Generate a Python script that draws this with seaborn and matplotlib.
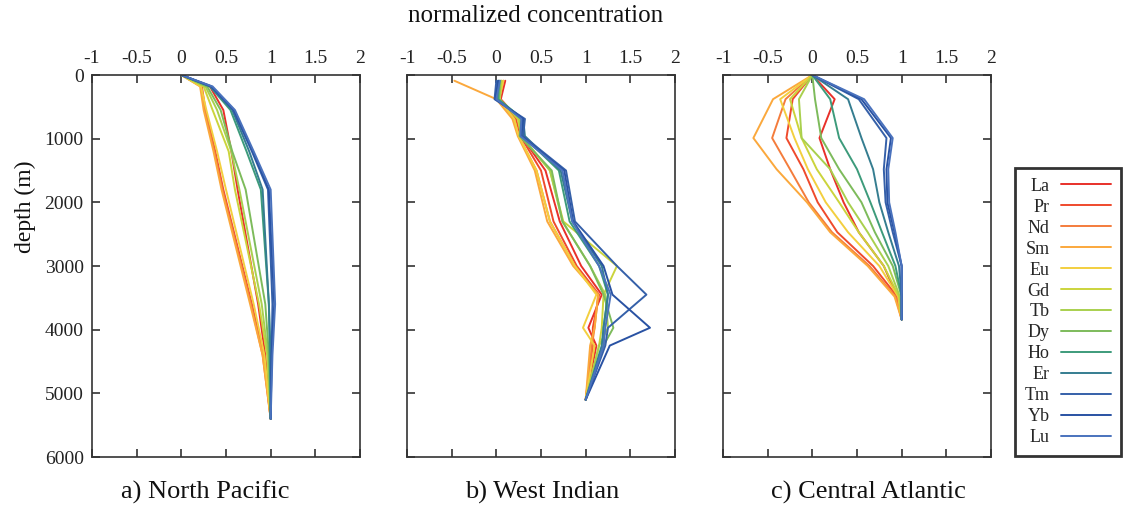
import numpy as np
import pandas as pd
import matplotlib
matplotlib.use("Agg")
import matplotlib.pyplot as plt
import seaborn as sns

elements = ["La", "Pr", "Nd", "Sm", "Eu", "Gd", "Tb", "Dy", "Ho", "Er", "Tm", "Yb", "Lu"]
colors = ["#e8302a", "#ef4a2c", "#f47c3c", "#fba83c", "#f3cf3f", "#cbd43c", "#a9d04e",
          "#7dbb5b", "#3d9b7b", "#357d90", "#3560a9", "#2952a3", "#4a72bd"]

# a) North Pacific
depth_a = [0, 180, 550, 1200, 1800, 3600, 4400, 5400]
vals_a = {
    "La": [0, 0.32, 0.47, 0.56, 0.63, 0.86, 0.94, 1.0],
    "Pr": [0, 0.23, 0.27, 0.38, 0.47, 0.79, 0.92, 1.0],
    "Nd": [0, 0.22, 0.26, 0.37, 0.46, 0.78, 0.91, 1.0],
    "Sm": [0, 0.21, 0.25, 0.36, 0.45, 0.77, 0.91, 1.0],
    "Eu": [0, 0.22, 0.28, 0.40, 0.50, 0.81, 0.93, 1.0],
    "Gd": [0, 0.25, 0.35, 0.53, 0.60, 0.87, 0.96, 1.0],
    "Tb": [0, 0.27, 0.40, 0.56, 0.65, 0.90, 0.97, 1.0],
    "Dy": [0, 0.29, 0.44, 0.57, 0.72, 0.94, 0.98, 1.0],
    "Ho": [0, 0.32, 0.55, 0.73, 0.89, 0.98, 0.99, 1.0],
    "Er": [0, 0.33, 0.57, 0.76, 0.91, 0.98, 1.0, 1.0],
    "Tm": [0, 0.33, 0.58, 0.79, 0.97, 1.02, 1.01, 1.0],
    "Yb": [0, 0.34, 0.59, 0.80, 0.98, 1.04, 1.01, 1.0],
    "Lu": [0, 0.35, 0.60, 0.81, 1.00, 1.05, 1.02, 1.0],
}

# b) West Indian
depth_b = [90, 380, 690, 960, 1500, 2300, 3000, 3450, 3970, 4250, 5100]
vals_b = {
    "La": [0.10, 0.05, 0.25, 0.28, 0.55, 0.71, 0.95, 1.18, 1.03, 1.12, 1.0],
    "Pr": [0.08, 0.03, 0.22, 0.27, 0.50, 0.64, 0.90, 1.15, 1.08, 1.08, 1.0],
    "Nd": [0.06, 0.02, 0.20, 0.25, 0.45, 0.60, 0.88, 1.14, 1.10, 1.07, 1.0],
    "Sm": [-0.47, 0.00, 0.18, 0.24, 0.43, 0.57, 0.86, 1.14, 1.10, 1.05, 1.0],
    "Eu": [0.08, 0.03, 0.20, 0.25, 0.45, 0.60, 0.88, 1.12, 0.97, 1.10, 1.0],
    "Gd": [0.06, 0.04, 0.24, 0.28, 0.60, 0.75, 1.35, 1.20, 1.18, 1.15, 1.0],
    "Tb": [0.05, 0.03, 0.26, 0.28, 0.60, 0.74, 1.05, 1.22, 1.25, 1.15, 1.0],
    "Dy": [0.04, 0.03, 0.28, 0.26, 0.62, 0.74, 1.05, 1.20, 1.31, 1.20, 1.0],
    "Ho": [0.03, 0.02, 0.30, 0.30, 0.70, 0.82, 1.15, 1.25, 1.20, 1.20, 1.0],
    "Er": [0.02, 0.00, 0.30, 0.32, 0.72, 0.85, 1.18, 1.25, 1.20, 1.18, 1.0],
    "Tm": [0.00, -0.02, 0.32, 0.30, 0.78, 0.88, 1.35, 1.68, 1.25, 1.22, 1.0],
    "Yb": [0.02, -0.01, 0.30, 0.28, 0.76, 0.86, 1.20, 1.30, 1.72, 1.27, 1.0],
    "Lu": [0.04, 0.00, 0.28, 0.27, 0.74, 0.85, 1.15, 1.28, 1.22, 1.20, 1.0],
}

# c) Central Atlantic
depth_c = [0, 380, 990, 1480, 2000, 2470, 3000, 3480, 3840]
vals_c = {
    "La": [0, 0.25, 0.08, 0.20, 0.35, 0.52, 0.80, 0.95, 1.0],
    "Pr": [0, -0.22, -0.29, -0.10, 0.06, 0.28, 0.68, 0.95, 1.0],
    "Nd": [0, -0.30, -0.45, -0.25, -0.04, 0.22, 0.64, 0.93, 1.0],
    "Sm": [0, -0.44, -0.66, -0.40, -0.06, 0.20, 0.62, 0.92, 1.0],
    "Eu": [0, -0.36, -0.20, -0.05, 0.15, 0.40, 0.75, 0.96, 1.0],
    "Gd": [0, -0.25, -0.12, 0.05, 0.30, 0.52, 0.80, 0.97, 1.0],
    "Tb": [0, -0.15, -0.12, 0.20, 0.40, 0.62, 0.85, 0.98, 1.0],
    "Dy": [0, 0.03, 0.10, 0.30, 0.55, 0.70, 0.90, 1.00, 1.0],
    "Ho": [0, 0.20, 0.30, 0.50, 0.65, 0.78, 0.93, 1.00, 1.0],
    "Er": [0, 0.40, 0.55, 0.68, 0.75, 0.85, 0.97, 1.00, 1.0],
    "Tm": [0, 0.52, 0.83, 0.80, 0.82, 0.90, 1.00, 1.00, 1.0],
    "Yb": [0, 0.55, 0.88, 0.83, 0.84, 0.92, 1.00, 1.00, 1.0],
    "Lu": [0, 0.58, 0.90, 0.85, 0.86, 0.93, 1.00, 1.00, 1.0],
}

titles = ["a) North Pacific", "b) West Indian", "c) Central Atlantic"]
x_ticks = [-1, -0.5, 0, 0.5, 1, 1.5, 2]
x_tick_labels = ["-1", "-0.5", "0", "0.5", "1", "1.5", "2"]
y_ticks = [0, 1000, 2000, 3000, 4000, 5000, 6000]


def long_df(depths, vals):
    rows = []
    for el in elements:
        for i, (d, v) in enumerate(zip(depths, vals[el])):
            rows.append({"element": el, "depth": d, "value": v, "order": i})
    return pd.DataFrame(rows)


sns.set_theme(style="white")
plt.rcParams["font.family"] = ["Liberation Serif", "DejaVu Serif"]

W, H = 1126, 511
fig = plt.figure(figsize=(W / 100, H / 100), dpi=100)
lefts = [92 / W, 407 / W, 723 / W]
w = 268 / W
bottom = 1 - 457 / H
h = 382 / H
palette = dict(zip(elements, colors))
title_x = [205, 542, 868]

axes = []
for k, (depths, vals) in enumerate([(depth_a, vals_a), (depth_b, vals_b), (depth_c, vals_c)]):
    ax = fig.add_axes([lefts[k], bottom, w, h])
    df = long_df(depths, vals)
    sns.lineplot(data=df, x="value", y="depth", hue="element", hue_order=elements,
                 palette=palette, sort=False, estimator=None, units="element",
                 ax=ax, linewidth=1.4, legend=(k == 0))
    ax.set_xlim(-1, 2)
    ax.set_ylim(6000, 0)
    ax.set_xticks(x_ticks)
    ax.set_xticklabels(x_tick_labels)
    ax.set_yticks(y_ticks)
    ax.xaxis.set_ticks_position("both")
    ax.yaxis.set_ticks_position("both")
    ax.tick_params(axis="both", direction="in", length=6, width=1.2, color="#333333",
                   labeltop=True, labelbottom=False, labelsize=14, pad=6,
                   labelcolor="#222222")
    if k > 0:
        ax.tick_params(axis="y", labelleft=False)
    for s in ax.spines.values():
        s.set_color("#333333")
        s.set_linewidth(1.2)
    ax.set_xlabel("")
    ax.set_ylabel("")
    fig.text(title_x[k] / W, 1 - 492 / H, titles[k], ha="center", va="center",
             fontsize=19, color="#111111")
    axes.append(ax)

handles, labels = axes[0].get_legend_handles_labels()
axes[0].get_legend().remove()
leg = fig.legend(handles, labels, loc="center", bbox_to_anchor=(1068 / W, 1 - 312 / H),
                 markerfirst=False, frameon=True, fancybox=False, fontsize=13,
                 handlelength=2.8, labelspacing=0.22, borderpad=0.55, handletextpad=0.6)
leg.get_frame().set_edgecolor("black")
leg.get_frame().set_linewidth(2)
for t in leg.get_texts():
    t.set_ha("right")

fig.text(25 / W, 1 - 207 / H, "depth (m)", rotation=90, ha="center", va="center",
         fontsize=17, color="#111111")
fig.text(536 / W, 1 - 16 / H, "normalized concentration",
         ha="center", va="center", fontsize=18, color="#111111")

fig.savefig("out.png", dpi=100)
